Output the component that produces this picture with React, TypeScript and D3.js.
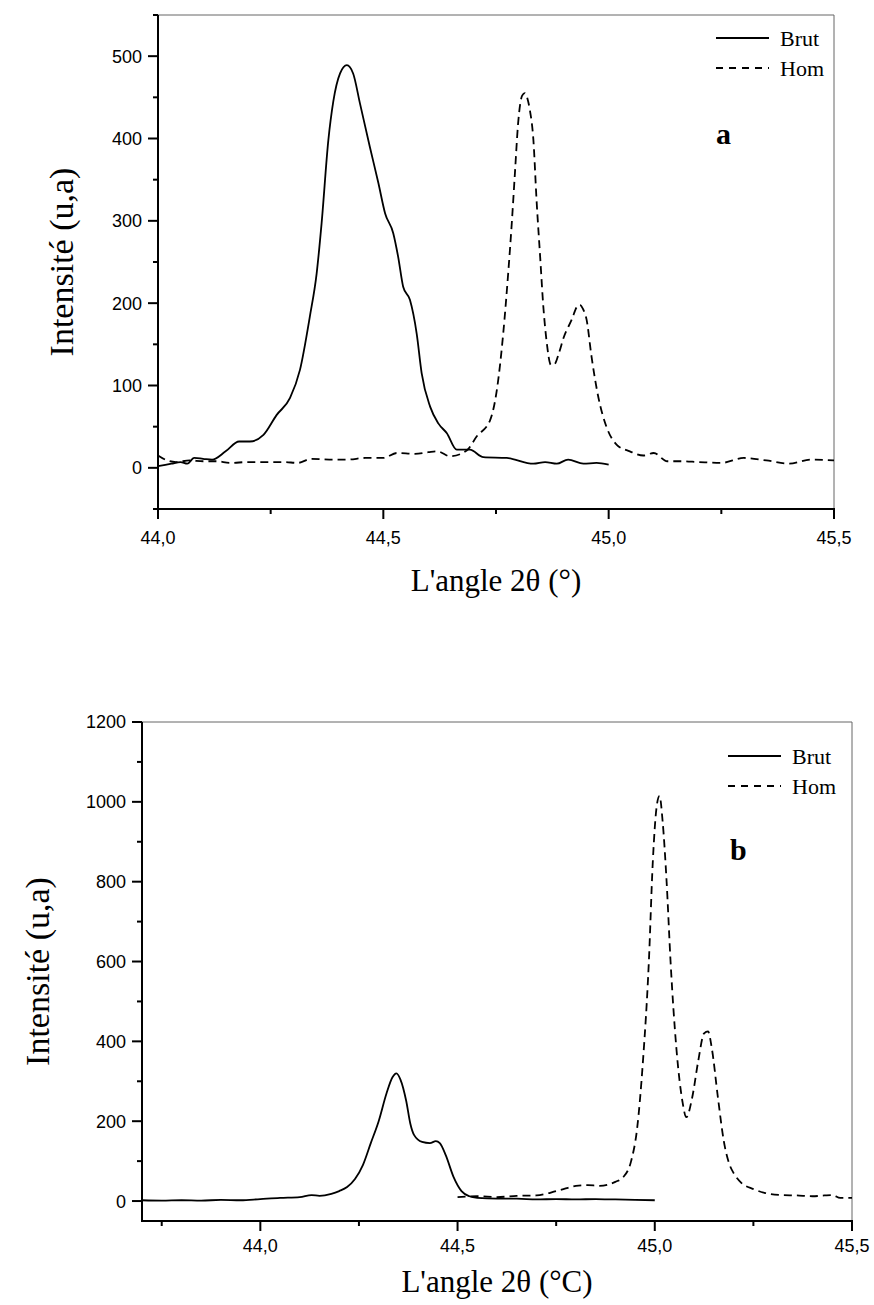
import React from "react";
import * as d3 from "d3";

// ---------- Data: panel a ----------
const brutA: [number, number][] = [
  [44.0, 2], [44.03, 5], [44.05, 7], [44.065, 5], [44.08, 12], [44.1, 11], [44.12, 10],
  [44.15, 20], [44.18, 32], [44.204, 32], [44.234, 40], [44.263, 64], [44.293, 85],
  [44.315, 119], [44.337, 184], [44.352, 236], [44.363, 297], [44.378, 398], [44.389, 445],
  [44.404, 479], [44.419, 489], [44.433, 479], [44.448, 443], [44.47, 390], [44.489, 346],
  [44.504, 309], [44.522, 285], [44.533, 256], [44.544, 220], [44.559, 204], [44.574, 163],
  [44.585, 115], [44.604, 74], [44.622, 54], [44.641, 42], [44.663, 22], [44.692, 22],
  [44.722, 13], [44.774, 12], [44.833, 5], [44.859, 7], [44.885, 5], [44.91, 10],
  [44.944, 5], [44.973, 6], [45.0, 4],
];
const homA: [number, number][] = [
  [44.0, 15], [44.02, 9], [44.04, 7], [44.07, 9], [44.1, 8], [44.13, 8], [44.16, 6],
  [44.2, 7], [44.24, 7], [44.28, 7], [44.31, 6], [44.34, 11], [44.38, 10], [44.42, 10],
  [44.46, 12], [44.5, 12], [44.53, 18], [44.57, 17], [44.6, 19], [44.62, 20], [44.648, 14],
  [44.685, 21], [44.707, 38], [44.737, 58], [44.752, 95], [44.766, 163], [44.777, 236],
  [44.785, 297], [44.792, 358], [44.799, 418], [44.808, 452], [44.814, 455], [44.82, 448],
  [44.825, 435], [44.833, 398], [44.84, 325], [44.848, 256], [44.855, 196], [44.862, 155],
  [44.872, 125], [44.88, 126], [44.89, 140], [44.9, 158], [44.918, 180], [44.93, 196],
  [44.936, 198], [44.943, 193], [44.951, 180], [44.962, 135], [44.977, 86], [44.995, 50],
  [45.018, 28], [45.047, 20], [45.077, 15], [45.1, 18], [45.13, 8], [45.16, 8], [45.2, 7],
  [45.25, 6], [45.3, 12], [45.35, 9], [45.4, 5], [45.45, 10], [45.5, 9],
];

// ---------- Data: panel b ----------
const brutB: [number, number][] = [
  [43.7, 2], [43.75, 1], [43.8, 2], [43.85, 1], [43.9, 3], [43.95, 2], [44.0, 5],
  [44.05, 8], [44.1, 10], [44.13, 15], [44.15, 13], [44.18, 18], [44.2, 25], [44.22, 35],
  [44.24, 55], [44.26, 90], [44.28, 145], [44.3, 200], [44.32, 270], [44.335, 310],
  [44.345, 320], [44.355, 305], [44.37, 250], [44.38, 195], [44.39, 165], [44.41, 148],
  [44.43, 145], [44.445, 150], [44.455, 145], [44.47, 115], [44.49, 60], [44.51, 25],
  [44.53, 12], [44.55, 8], [44.6, 6], [44.65, 6], [44.7, 4], [44.75, 5], [44.8, 4],
  [44.85, 5], [44.9, 4], [44.95, 3], [45.0, 2],
];
const homB: [number, number][] = [
  [44.5, 10], [44.55, 12], [44.6, 10], [44.65, 13], [44.7, 14], [44.75, 25], [44.78, 33],
  [44.8, 38], [44.83, 40], [44.86, 38], [44.9, 48], [44.92, 60], [44.94, 100], [44.955, 180],
  [44.97, 350], [44.985, 600], [44.995, 850], [45.005, 990], [45.012, 1015], [45.02, 950],
  [45.03, 800], [45.04, 600], [45.055, 380], [45.07, 250], [45.08, 210], [45.095, 260],
  [45.11, 350], [45.125, 420], [45.135, 425], [45.145, 380], [45.16, 260], [45.175, 150],
  [45.19, 90], [45.2, 70], [45.22, 45], [45.25, 30], [45.28, 20], [45.32, 15], [45.36, 14],
  [45.4, 12], [45.43, 14], [45.45, 15], [45.47, 8], [45.5, 8],
];

// ---------- Ticks ----------
const xMajorA = [44.0, 44.5, 45.0, 45.5];
const xMinorA = [44.25, 44.75, 45.25];
const yMajorA = [0, 100, 200, 300, 400, 500];
const yMinorA = [-50, 50, 150, 250, 350, 450, 550];

const xMajorB = [44.0, 44.5, 45.0, 45.5];
const xMinorB = [43.75, 44.25, 44.75, 45.25];
const yMajorB = [0, 200, 400, 600, 800, 1000, 1200];
const yMinorB = [100, 300, 500, 700, 900, 1100];

const seriesNames = ["Brut", "Hom"];

const fmtX = (v: number) => v.toFixed(1).replace(".", ",");

type PanelProps = {
  left: number; right: number; top: number; bottom: number;
  xDomain: [number, number]; yDomain: [number, number];
  brut: [number, number][]; hom: [number, number][];
  xMajor: number[]; xMinor: number[]; yMajor: number[]; yMinor: number[];
  xTitle: string; yTitleX: number; xTitleY: number; xLabelY: number;
  letter: string; letterX: number; letterY: number;
  legendX: number; legendY: number;
};

function Panel(p: PanelProps) {
  const x = d3.scaleLinear().domain(p.xDomain).range([p.left, p.right]);
  const y = d3.scaleLinear().domain(p.yDomain).range([p.bottom, p.top]);
  const line = d3.line<[number, number]>().x(d => x(d[0])).y(d => y(d[1])).curve(d3.curveMonotoneX);
  const tickFont = "'Liberation Sans', Arial, sans-serif";
  const serif = "'Liberation Serif', 'Times New Roman', serif";
  const cx = (p.left + p.right) / 2;
  const cy = (p.top + p.bottom) / 2;
  return (
    <g>
      <line x1={p.left} x2={p.right} y1={p.top} y2={p.top} stroke="#666" strokeWidth={1} />
      <line x1={p.right} x2={p.right} y1={p.top} y2={p.bottom} stroke="#666" strokeWidth={1} />
      <path d={line(p.brut) || ""} fill="none" stroke="#000" strokeWidth={1.8} />
      <path d={line(p.hom) || ""} fill="none" stroke="#000" strokeWidth={1.8} strokeDasharray="8,5" />
      <line x1={p.left} x2={p.left} y1={p.top} y2={p.bottom + 1} stroke="#000" strokeWidth={2} />
      <line x1={p.left - 1} x2={p.right + 1} y1={p.bottom} y2={p.bottom} stroke="#000" strokeWidth={2} />
      {p.yMajor.map(v => (
        <g key={"ym" + v}>
          <line x1={p.left - 10} x2={p.left} y1={y(v)} y2={y(v)} stroke="#000" strokeWidth={2} />
          <text x={p.left - 16} y={y(v)} dy="0.36em" textAnchor="end" fontFamily={tickFont} fontSize={18}>{v}</text>
        </g>
      ))}
      {p.yMinor.map(v => (
        <line key={"yn" + v} x1={p.left - 5} x2={p.left} y1={y(v)} y2={y(v)} stroke="#000" strokeWidth={2} />
      ))}
      {p.xMajor.map(v => (
        <g key={"xm" + v}>
          <line x1={x(v)} x2={x(v)} y1={p.bottom} y2={p.bottom + 10} stroke="#000" strokeWidth={2} />
          <text x={x(v)} y={p.xLabelY} textAnchor="middle" fontFamily={tickFont} fontSize={18}>{fmtX(v)}</text>
        </g>
      ))}
      {p.xMinor.map(v => (
        <line key={"xn" + v} x1={x(v)} x2={x(v)} y1={p.bottom} y2={p.bottom + 5} stroke="#000" strokeWidth={2} />
      ))}
      <text x={cx} y={p.xTitleY} textAnchor="middle" fontFamily={serif} fontSize={31}>{p.xTitle}</text>
      <text transform={`translate(${p.yTitleX},${cy}) rotate(-90)`} textAnchor="middle" fontFamily={serif} fontSize={34}>Intensité (u,a)</text>
      <line x1={p.legendX} x2={p.legendX + 53} y1={p.legendY} y2={p.legendY} stroke="#000" strokeWidth={1.8} />
      <text x={p.legendX + 64} y={p.legendY + 8} fontFamily={serif} fontSize={22}>{seriesNames[0]}</text>
      <line x1={p.legendX} x2={p.legendX + 53} y1={p.legendY + 30} y2={p.legendY + 30} stroke="#000" strokeWidth={1.8} strokeDasharray="7,6" />
      <text x={p.legendX + 64} y={p.legendY + 38} fontFamily={serif} fontSize={22}>{seriesNames[1]}</text>
      <text x={p.letterX} y={p.letterY} fontFamily={serif} fontWeight="bold" fontSize={30}>{p.letter}</text>
    </g>
  );
}

export default function App() {
  return (
    <svg width={874} height={1305} style={{ position: "absolute", left: 0, top: 0, background: "#fff" }}>
      <rect width={874} height={1305} fill="#fff" />
      <Panel
        left={158} right={834} top={15} bottom={509}
        xDomain={[44.0, 45.5]} yDomain={[-50, 550]}
        brut={brutA} hom={homA}
        xMajor={xMajorA} xMinor={xMinorA} yMajor={yMajorA} yMinor={yMinorA}
        xTitle="L'angle 2θ (°)" yTitleX={73} xTitleY={591} xLabelY={544}
        letter="a" letterX={716} letterY={144}
        legendX={716} legendY={38}
      />
      <Panel
        left={142} right={852} top={722} bottom={1221}
        xDomain={[43.7, 45.5]} yDomain={[-50, 1200]}
        brut={brutB} hom={homB}
        xMajor={xMajorB} xMinor={xMinorB} yMajor={yMajorB} yMinor={yMinorB}
        xTitle="L'angle 2θ (°C)" yTitleX={49} xTitleY={1292} xLabelY={1252}
        letter="b" letterX={730} letterY={860}
        legendX={728} legendY={756}
      />
    </svg>
  );
}
